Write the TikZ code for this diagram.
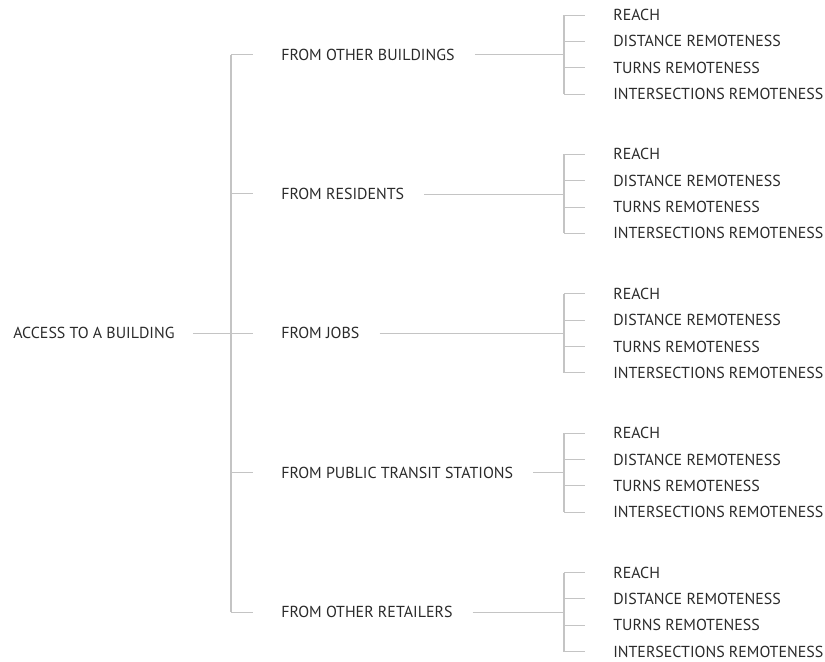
\documentclass[tikz,border=0pt]{standalone}
\usepackage{fontspec}
\setmainfont{PT Sans}
\usetikzlibrary{positioning}
\definecolor{ink}{HTML}{2A2A2A}
\definecolor{rule}{HTML}{C4C4C4}

\begin{document}
\begin{tikzpicture}[
		x=0.75pt, y=-0.75pt,
		label/.style={text=ink, font=\fontsize{11.95}{13}\selectfont, inner xsep=0pt, anchor=west},
		rail/.style={draw=rule, line width=1pt},
		stub/.style={draw=rule, line width=0.75pt, shorten >=21pt},
		link/.style={draw=rule, line width=0.6pt, shorten <=15pt}
	]
		\useasboundingbox (0,0) rectangle (825,661);
		\node[label](root) at (13,333.3){ACCESS TO A BUILDING};
		\coordinate (top) at (231,54.5);
		\coordinate (bottom) at (231,612);
		\draw[rail](top) -- (bottom);
		
		\foreach \name [count=\k from 0] in {FROM OTHER BUILDINGS, FROM RESIDENTS, FROM JOBS, FROM PUBLIC TRANSIT STATIONS, FROM OTHER RETAILERS}{
			\pgfmathsetmacro{\c}{54.5+139.4*\k}
			\coordinate (t\k) at (231,\c);
			\coordinate (h\k) at (564,\c);
			\node[label](from-\k) at (281,\c){\name};
			\draw[stub](t\k) -- (from-\k);
			\draw[link](from-\k) -- (h\k);
			\foreach \item/\off [count=\j] in {REACH/-39.5, DISTANCE REMOTENESS/-13.2, TURNS REMOTENESS/13.2, INTERSECTIONS REMOTENESS/39.5}{
				\coordinate (b\k-\j) at (564,\c+\off);
				\node[label](m\k-\j) at (613,\c+\off){\item};
				\draw[stub](b\k-\j) -- (m\k-\j);
			}
			\draw[rail](b\k-1) -- (b\k-4);
		}
		\draw[link, shorten <=13.5pt](root) -- (t2);
	\end{tikzpicture}
\end{document}
